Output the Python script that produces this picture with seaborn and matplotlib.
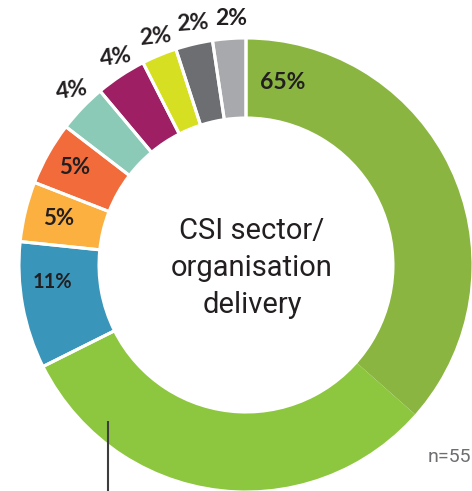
import matplotlib
matplotlib.use("Agg")
import matplotlib.pyplot as plt
import seaborn as sns

# share of respondents per category (%), clockwise from 12 o'clock
shares = [65, 11, 5, 5, 4, 4, 2, 2, 2]
# arc size of each slice as drawn in the picture (degrees)
arc_deg = [243.5, 32.5, 15.4, 16.2, 12.5, 13.0, 9.0, 9.5, 8.5]
# the big slice is drawn in two shades: dark part then light part (degrees)
green_parts = [131.5, 112.0]
colors = ["#8DC63F", "#3A95BA", "#FBB040", "#F26B3A", "#8CCAB8",
          "#9E1F63", "#D7DF23", "#6D6E71", "#A7A9AC"]
dark_green = "#89B540"
center_title = "CSI sector/\norganisation\ndelivery"
sample_note = "n=55"

# label anchors in pixels (x, y from top), rotation, font size
label_pos = [(283, 82, 0, 16.5), (52, 282, 0, 14.5), (59, 218, 0, 16),
             (75, 167, 0, 16), (72, 90, 8, 16.5), (116, 57, 8, 16.5),
             (155, 37, 6, 16.5), (193, 23, 4, 16.5), (231, 18, 0, 16.5)]

W, H = 472, 491
sns.set_style("white")
fig = plt.figure(figsize=(W / 100, H / 100), dpi=100)
ax = fig.add_axes([0, 0, 1, 1])

cx, cy = 246, H - 265
R, ring = 227, 80

#coloured ring, no edges so the two greens touch
fill_vals = green_parts + arc_deg[1:]
fill_cols = [dark_green, colors[0]] + colors[1:]
ax.pie(fill_vals, colors=fill_cols, startangle=90, counterclock=False,
       center=(cx, cy), radius=R, frame=True,
       wedgeprops=dict(width=ring, linewidth=0))
#white separators between the real categories
ax.pie(arc_deg, colors=["none"] * len(arc_deg), startangle=90, counterclock=False,
       center=(cx, cy), radius=R, frame=True,
       wedgeprops=dict(width=ring, edgecolor="white", linewidth=2.2, fill=False))

for v, (x, y, rot, fs) in zip(shares, label_pos):
    ax.text(x, H - y, f"{v}%", ha="center", va="center", rotation=rot,
            fontsize=fs, fontweight="bold", family="Lato", color="#231F20")

ax.text(252, H - 268, center_title, ha="center", va="center", fontsize=21,
        family="Roboto", color="#231F20", linespacing=1.42)

ax.plot([108, 108], [H - 421, 0], color="#3D3D3D", lw=1.5, solid_capstyle="butt")
ax.text(428, H - 462, sample_note, ha="left", va="baseline", fontsize=14,
        family="Roboto", color="#6D6E71")

ax.set_xlim(0, W)
ax.set_ylim(0, H)
ax.set_aspect("equal")
ax.axis("off")
fig.savefig("out.png", dpi=100)
